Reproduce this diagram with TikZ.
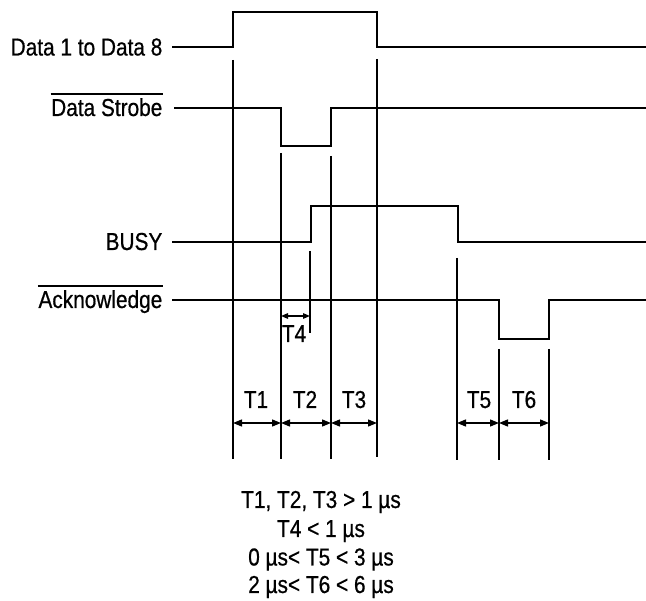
\documentclass[tikz,border=0pt]{standalone}
\usepackage{fontspec}
\setmainfont{Liberation Sans}[FakeStretch=0.85,FakeBold=0.6]
\usetikzlibrary{arrows.meta}
\begin{document}
\begin{tikzpicture}[x=1pt,y=-1pt,line width=1.3pt,
  lbl/.style={inner sep=0pt,anchor=base east,font=\fontsize{24.5}{29}\selectfont},
  tlbl/.style={inner sep=0pt,anchor=base,font=\fontsize{24.5}{29}\selectfont},
  wave/.style={line join=miter},
  guide/.style={},
  dim/.style={{Triangle[length=9pt,width=7pt]}-{Triangle[length=9pt,width=7pt]}},
  sdim/.style={{Triangle[length=7pt,width=5.5pt]}-{Triangle[length=7pt,width=5.5pt]}}]
\useasboundingbox (0,0) rectangle (646,601);

% labels
\node[lbl] (ld) at (163,55.5) {Data 1 to Data 8};
\node[lbl] (ls) at (163,116) {Data Strobe};
\node[lbl] (lb) at (163,250) {BUSY};
\node[lbl] (la) at (163,308) {Acknowledge};
\draw[line width=1.2pt] ([yshift=3.5pt]ls.north west) -- ([yshift=3.5pt]ls.north east);
\draw[line width=1.2pt] ([yshift=3.5pt]la.north west) -- ([yshift=3.5pt]la.north east);

% waveforms
\draw[wave] (172,47) -- (233,47) -- (233,12) -- (377,12) -- (377,47) -- (646,47);
\draw[wave] (174,108) -- (281,108) -- (281,146) -- (331,146) -- (331,108) -- (646,108);
\draw[wave] (172,242) -- (311,242) -- (311,206) -- (458,206) -- (458,242) -- (646,242);
\draw[wave] (172,300) -- (499,300) -- (499,339) -- (549,339) -- (549,300) -- (646,300);

% guide lines
\coordinate (v1t) at (233,60);   \coordinate (v1b) at (233,459);
\coordinate (v2t) at (281,153);  \coordinate (v2b) at (281,459);
\coordinate (v3t) at (331,156);  \coordinate (v3b) at (331,459);
\coordinate (v4t) at (377,59);   \coordinate (v4b) at (377,457);
\coordinate (v9t) at (310,251);  \coordinate (v9b) at (310,333);
\coordinate (v5t) at (457,258);  \coordinate (v5b) at (457,460);
\coordinate (v6t) at (499,349);  \coordinate (v6b) at (499,460);
\coordinate (v7t) at (549,349);  \coordinate (v7b) at (549,460);
\foreach \v in {v1,v2,v3,v4,v9,v5,v6,v7} \draw[guide] (\v t) -- (\v b);

% dimension arrows
\coordinate (a1) at (233,423); \coordinate (a2) at (281,423);
\coordinate (a3) at (331,423); \coordinate (a4) at (377,423);
\coordinate (a5) at (457,423); \coordinate (a6) at (499,423);
\coordinate (a7) at (549,423);
\draw[dim] (a1) -- (a2);
\draw[dim] (a2) -- (a3);
\draw[dim] (a3) -- (a4);
\draw[dim] (a5) -- (a6);
\draw[dim] (a6) -- (a7);
\coordinate (b1) at (281,316); \coordinate (b2) at (310,316);
\draw[sdim] (b1) -- (b2);

\node[tlbl] (t1) at (256,408) {T1};
\node[tlbl] (t2) at (305,408) {T2};
\node[tlbl] (t3) at (354,408) {T3};
\node[tlbl] (t4) at (294,342) {T4};
\node[tlbl] (t5) at (479,408) {T5};
\node[tlbl] (t6) at (524,408) {T6};

% conditions
\node[tlbl] (c1) at (321,508) {T1, T2, T3 > 1 µs};
\node[tlbl] (c2) at (321,537) {T4 < 1 µs};
\node[tlbl] (c3) at (321,565.5) {0 µs< T5 < 3 µs};
\node[tlbl] (c4) at (321,593) {2 µs< T6 < 6 µs};
\end{tikzpicture}
\end{document}
